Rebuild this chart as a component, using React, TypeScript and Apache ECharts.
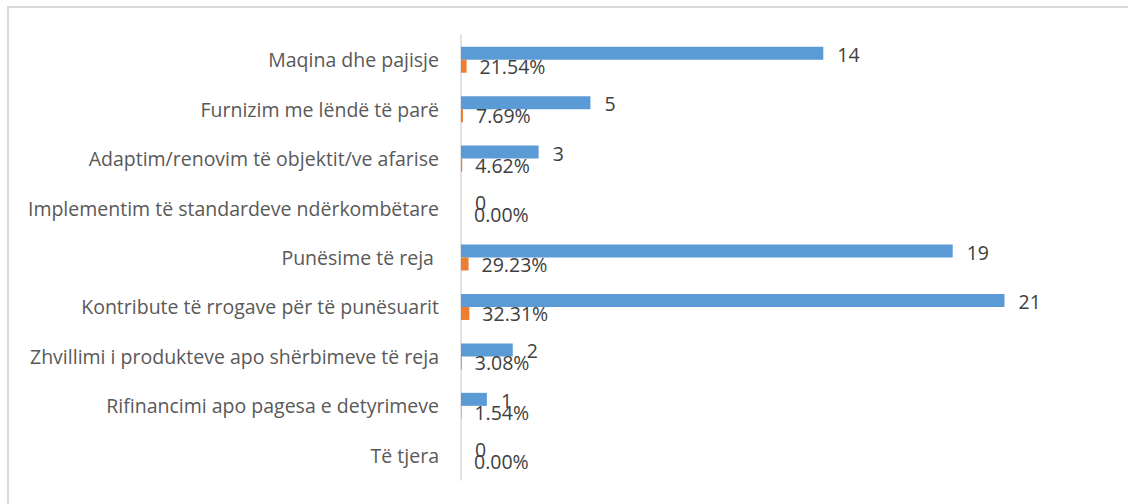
import React, { useEffect, useRef } from "react";
import * as echarts from "echarts";

const categories = [
  "Maqina dhe pajisje",
  "Furnizim me lëndë të parë",
  "Adaptim/renovim të objektit/ve afarise",
  "Implementim të standardeve ndërkombëtare",
  "Punësime të reja ",
  "Kontribute të rrogave për të punësuarit",
  "Zhvillimi i produkteve apo shërbimeve të reja",
  "Rifinancimi apo pagesa e detyrimeve",
  "Të tjera",
];
const counts = [14, 5, 3, 0, 19, 21, 2, 1, 0];
const shares = [0.2154, 0.0769, 0.0462, 0, 0.2923, 0.3231, 0.0308, 0.0154, 0];

const FONT = "'Open Sans', sans-serif";

export default function App() {
  const ref = useRef<HTMLDivElement>(null);
  useEffect(() => {
    const chart = echarts.init(ref.current!, null, { renderer: "svg" });
    chart.setOption({
      animation: false,
      backgroundColor: "#ffffff",
      textStyle: { fontFamily: FONT },
      graphic: [
        {
          type: "rect",
          shape: { x: 8, y: 7, width: 1140, height: 520 },
          style: { fill: "none", stroke: "#D9D9D9", lineWidth: 2 },
          silent: true,
        },
      ],
      grid: { left: 461, right: 20, top: 35, bottom: 24, containLabel: false },
      xAxis: {
        type: "value",
        min: 0,
        max: 25,
        show: false,
      },
      yAxis: {
        type: "category",
        data: categories,
        inverse: true,
        axisLine: { show: true, lineStyle: { color: "#D9D9D9", width: 1.5 } },
        axisTick: { show: false },
        axisLabel: {
          color: "#595959",
          fontSize: 19.5,
          fontFamily: FONT,
          margin: 22,
        },
        splitLine: { show: false },
      },
      series: [
        {
          type: "bar",
          name: "Numri",
          data: counts,
          barWidth: 13,
          barGap: "0%",
          itemStyle: { color: "#5B9BD5" },
          label: {
            show: true,
            position: "right",
            distance: 14,
            offset: [0, 1],
            color: "#404040",
            fontSize: 19.5,
            fontFamily: FONT,
          },
        },
        {
          type: "bar",
          name: "Përqindja",
          data: shares,
          barWidth: 13,
          barGap: "0%",
          itemStyle: { color: "#ED7D31" },
          label: {
            show: true,
            position: "right",
            distance: 13,
            color: "#404040",
            fontSize: 19.5,
            fontFamily: FONT,
            formatter: (p: any) => (p.value * 100).toFixed(2) + "%",
          },
        },
      ],
    });
    return () => chart.dispose();
  }, []);
  return (
    <div
      ref={ref}
      style={{ position: "absolute", left: 0, top: 0, width: 1128, height: 504 }}
    />
  );
}
